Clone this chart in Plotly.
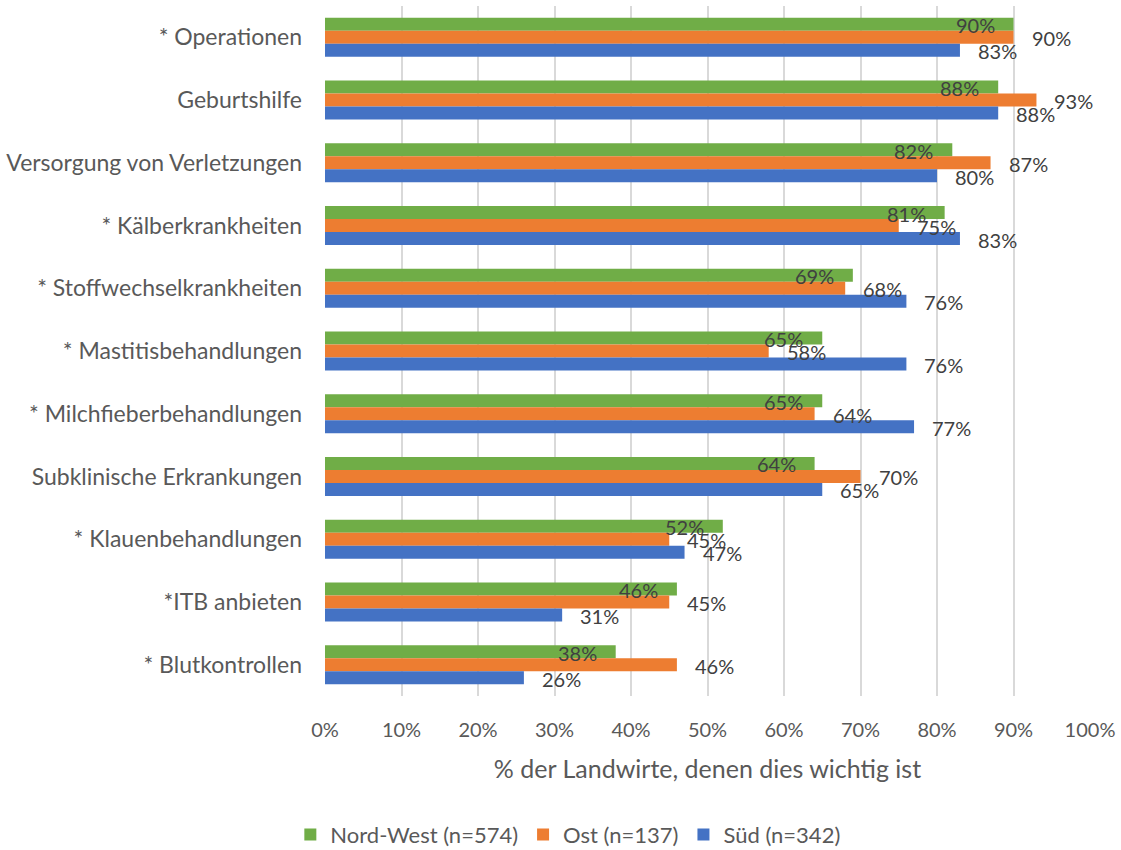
import plotly.graph_objects as go

# Behandlungsbereiche (von oben nach unten)
categories = [
    "* Operationen",
    "Geburtshilfe",
    "Versorgung von Verletzungen",
    "* Kälberkrankheiten",
    "* Stoffwechselkrankheiten",
    "* Mastitisbehandlungen",
    "* Milchfieberbehandlungen",
    "Subklinische Erkrankungen",
    "* Klauenbehandlungen",
    "*ITB anbieten",
    "* Blutkontrollen",
]

# Anteil der Landwirte in Prozent je Region
nord_west = [90, 88, 82, 81, 69, 65, 65, 64, 52, 46, 38]
ost = [90, 93, 87, 75, 68, 58, 64, 70, 45, 45, 46]
sued = [83, 88, 80, 83, 76, 76, 77, 65, 47, 31, 26]

series_names = ["Nord-West (n=574)", "Ost (n=137)", "Süd (n=342)"]
series_values = [nord_west, ost, sued]
series_colors = ["#70AD47", "#ED7D31", "#4472C4"]

tick_values = list(range(0, 101, 10))
tick_labels = [f"{t}%" for t in tick_values]

FONT = "Lato"
LABEL_COLOR = "#404040"
AXIS_COLOR = "#595959"

fig = go.Figure()
for name, vals, color in zip(series_names, series_values, series_colors):
    fig.add_trace(go.Bar(
        name=name,
        y=categories,
        x=vals,
        orientation="h",
        marker=dict(color=color, line=dict(width=0)),
        hoverinfo="x+y+name",
    ))

# Datenbeschriftungen: erste Reihe innen am Balkenende, übrige außerhalb
label_style = [
    dict(xanchor="right", xshift=-17, yshift=12),
    dict(xanchor="left", xshift=16, yshift=-1),
    dict(xanchor="left", xshift=16, yshift=-14),
]
annotations = []
for vals, style in zip(series_values, label_style):
    for cat, v in zip(categories, vals):
        annotations.append(dict(
            x=v, y=cat, xref="x", yref="y",
            text=f"{v}%", showarrow=False,
            font=dict(family=FONT, size=20, color=LABEL_COLOR),
            yanchor="middle", **style,
        ))

fig.update_layout(
    width=1121,
    height=850,
    margin=dict(l=323, r=31, t=6, b=154),
    paper_bgcolor="white",
    plot_bgcolor="white",
    barmode="group",
    bargap=0.378,
    bargroupgap=0,
    font=dict(family=FONT, color=AXIS_COLOR),
    annotations=annotations,
    showlegend=True,
    legend=dict(
        orientation="h",
        xref="container", yref="container",
        x=0.259, xanchor="left",
        y=0.018, yanchor="middle",
        font=dict(family=FONT, size=22, color=AXIS_COLOR),
        itemwidth=30,
        traceorder="normal",
    ),
    xaxis=dict(
        range=[0, 100],
        tickmode="array",
        tickvals=tick_values,
        ticktext=tick_labels,
        showgrid=True,
        gridcolor="#D9D9D9",
        gridwidth=2,
        zeroline=False,
        showline=False,
        ticks="",
        ticklabelstandoff=20,
        tickfont=dict(family=FONT, size=20, color=AXIS_COLOR),
        title=dict(
            text="% der Landwirte, denen dies wichtig ist",
            font=dict(family=FONT, size=25, color=AXIS_COLOR),
            standoff=20,
        ),
    ),
    yaxis=dict(
        categoryorder="array",
        categoryarray=categories,
        autorange="reversed",
        showgrid=False,
        zeroline=False,
        showline=False,
        ticks="",
        ticklabelstandoff=22,
        tickfont=dict(family=FONT, size=23, color=AXIS_COLOR),
    ),
)

fig.write_html("out.html")
